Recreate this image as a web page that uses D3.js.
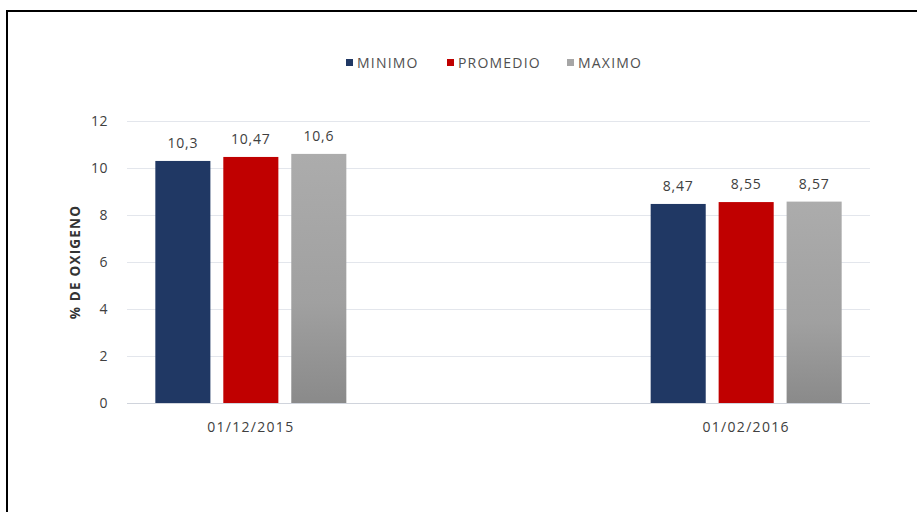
<!DOCTYPE html>
<html><head><meta charset="utf-8">
<script src="https://cdn.jsdelivr.net/npm/d3@7"></script>
<style>body{margin:0;background:#fff}svg{display:block}text{font-family:"Open Sans",sans-serif}</style>
</head><body><svg id="c" width="917" height="512"></svg>
<script>
const months = ["01/12/2015","01/01/2016","01/02/2016"];
const categories = ["01/12/2015","01/02/2016"];
const seriesNames = ["MINIMO","PROMEDIO","MAXIMO"];
const minimo = [10.3, 8.47];
const promedio = [10.47, 8.55];
const maximo = [10.6, 8.57];
const valueLabels = [["10,3","8,47"],["10,47","8,55"],["10,6","8,57"]];
const yTicks = [0,2,4,6,8,10,12];

const series = [minimo, promedio, maximo];
const colors = ["#203864","#c00000","url(#gGrey)"];
const legendColors = ["#203864","#c00000","#a6a6a6"];

const svg = d3.select("#c");
const defs = svg.append("defs");
const lg = defs.append("linearGradient").attr("id","gGrey").attr("x1",0).attr("y1",0).attr("x2",0).attr("y2",1);
lg.append("stop").attr("offset","0%").attr("stop-color","#acacac");
lg.append("stop").attr("offset","60%").attr("stop-color","#a0a0a0");
lg.append("stop").attr("offset","100%").attr("stop-color","#8a8a8a");

// frame
svg.append("path").attr("d","M7,512 V11 H917").attr("fill","none").attr("stroke","#000").attr("stroke-width",2);

const x0 = d3.scaleBand().domain(months).range([127,870]).paddingInner(0).paddingOuter(0);
const x1 = d3.scaleBand().domain(seriesNames).range([0,191]).paddingInner(0.19).paddingOuter(0);
const y = d3.scaleLinear().domain([0,12]).range([403,121]);

// gridlines
svg.append("g").selectAll("line").data(yTicks).join("line")
  .attr("x1",127).attr("x2",870).attr("y1",d=>y(d)+0.5).attr("y2",d=>y(d)+0.5)
  .attr("stroke",d=>d===0?"#d0d4dc":"#e3e6ec").attr("stroke-width",1);

// y tick labels
const yAxis = d3.axisLeft(y).tickValues(yTicks).tickSize(0).tickPadding(0);
const ga = svg.append("g").attr("transform","translate(108,0)").call(yAxis);
ga.select(".domain").remove();
ga.selectAll("text").attr("font-size",14).attr("fill","#404040").attr("font-family","Open Sans").attr("letter-spacing","0.5px");

// y title
svg.append("text").attr("transform","translate(80,262) rotate(-90)").attr("text-anchor","middle")
  .attr("font-size",13.5).attr("font-weight","bold").attr("fill","#333").attr("letter-spacing","1.2px").text("% DE OXIGENO");

// bars
categories.forEach((cat,ci)=>{
  const gx = x0(cat) + (x0.bandwidth()-191)/2;
  seriesNames.forEach((s,si)=>{
    const v = series[si][ci];
    svg.append("rect").attr("x",gx+x1(s)).attr("y",y(v)).attr("width",x1.bandwidth()).attr("height",y(0)-y(v))
      .attr("fill",colors[si]);
    svg.append("text").attr("x",gx+x1(s)+x1.bandwidth()/2).attr("y",y(v)-13).attr("text-anchor","middle")
      .attr("font-size",14).attr("fill","#404040").attr("letter-spacing","0.8px").text(valueLabels[si][ci]);
  });
  svg.append("text").attr("x",x0(cat)+x0.bandwidth()/2).attr("y",432).attr("text-anchor","middle")
    .attr("font-size",14).attr("fill","#404040").attr("letter-spacing","1.3px").text(cat);
});

// legend
const legX = [346,447,567];
seriesNames.forEach((s,i)=>{
  svg.append("rect").attr("x",legX[i]).attr("y",59).attr("width",7).attr("height",7).attr("fill",legendColors[i]);
  svg.append("text").attr("x",legX[i]+11).attr("y",68).attr("font-size",14).attr("fill","#505050").attr("letter-spacing","1.2px").text(s);
});
</script></body></html>
